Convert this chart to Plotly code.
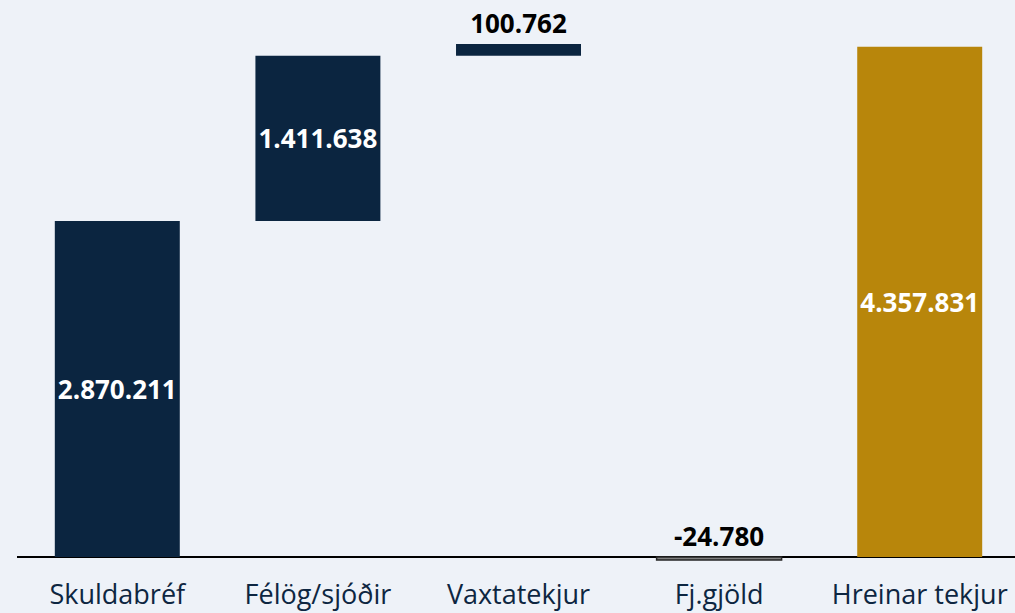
import plotly.graph_objects as go

categories = ["Skuldabréf", "Félög/sjóðir", "Vaxtatekjur", "Fj.gjöld", "Hreinar tekjur"]
values = [2870211, 1411638, 100762, -24780, 4357831]
labels = ["2.870.211", "1.411.638", "100.762", "-24.780", "4.357.831"]

NAVY = "#0B2540"
GOLD = "#B8860B"
BG = "#EEF2F8"

# bases: first three stack cumulatively, Fj.gjöld and total drawn from zero
bases = [0, values[0], values[0] + values[1], 0, 0]
colors = [NAVY, NAVY, NAVY, "#7F7F7F", GOLD]
line_colors = [NAVY, NAVY, NAVY, "#262626", GOLD]
line_widths = [0, 0, 0, 1.5, 0]
textpos = ["inside", "inside", "outside", "none", "inside"]

fig = go.Figure()
fig.add_trace(go.Bar(
    x=categories, y=values, base=bases,
    marker=dict(color=colors, line=dict(color=line_colors, width=line_widths)),
    text=labels, textposition=textpos, insidetextanchor="middle",
    insidetextfont=dict(color="white", size=26, family="Open Sans", weight="bold"),
    outsidetextfont=dict(color="black", size=26, family="Open Sans", weight="bold"),
    textangle=0, cliponaxis=False, width=0.623, hoverinfo="skip",
))
# label for the negative bar, shown above the zero line
fig.add_annotation(
    x=categories[3], y=0, text=labels[3], showarrow=False,
    yanchor="bottom", yshift=1,
    font=dict(color="black", size=26, family="Open Sans", weight="bold"),
)

px_per_unit = 336 / values[0]
ymax = 557 / px_per_unit
ymin = -8 / px_per_unit

fig.update_layout(
    width=1015, height=613,
    margin=dict(l=17, r=0, t=0, b=48, autoexpand=False),
    paper_bgcolor=BG, plot_bgcolor=BG,
    showlegend=False, bargap=0.377,
    xaxis=dict(range=[-0.5, 4.475], showgrid=False, showline=False, ticks="",
               ticklabelstandoff=11, automargin=False,
               tickfont=dict(family="Open Sans", size=27, color="#0D2641")),
    yaxis=dict(range=[ymin, ymax], visible=True, showgrid=False, showticklabels=False,
               automargin=False,
               zeroline=True, zerolinecolor="black", zerolinewidth=1.5, showline=False),
)

fig.write_html("out.html", config={"displayModeBar": False},
               post_script="document.body.style.margin='0';")
